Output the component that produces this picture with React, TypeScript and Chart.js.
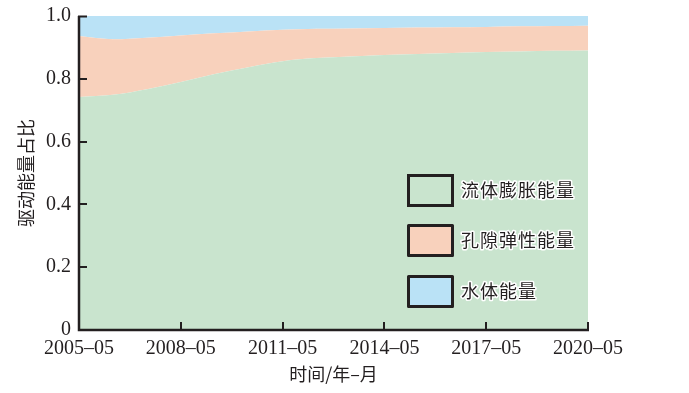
import React, { useEffect, useRef } from "react";
import { Chart, registerables } from "chart.js";

Chart.register(...registerables);

const years = [2005, 2006, 2007, 2008, 2009, 2010, 2011, 2012, 2013, 2014, 2015, 2016, 2017, 2018, 2019, 2020];
const fluidExpansion = [0.742, 0.749, 0.767, 0.790, 0.815, 0.837, 0.856, 0.866, 0.871, 0.876, 0.879, 0.882, 0.885, 0.887, 0.889, 0.890];
const poroElastic = [0.194, 0.177, 0.164, 0.148, 0.130, 0.114, 0.100, 0.093, 0.089, 0.086, 0.084, 0.082, 0.080, 0.080, 0.079, 0.079];
const aquifer = [0.064, 0.074, 0.069, 0.062, 0.055, 0.049, 0.044, 0.041, 0.040, 0.038, 0.037, 0.036, 0.035, 0.033, 0.032, 0.031];
const xTickLabels = ["2005–05", "2008–05", "2011–05", "2014–05", "2017–05", "2020–05"];
const yTickLabels = ["0", "0.2", "0.4", "0.6", "0.8", "1.0"];
const seriesNames = ["流体膨胀能量", "孔隙弹性能量", "水体能量"];
const xTitle = "时间/年–月";
const yTitle = "驱动能量占比";

const INK = "#231f20";
const GREEN = "rgb(201,228,206)";
const PINK = "rgb(248,209,188)";
const BLUE = "rgb(186,226,246)";
const CJK = '"Noto Sans CJK SC", "Noto Sans", sans-serif';
const SERIF = '"Liberation Serif", "DejaVu Serif", serif';

const axesPlugin = {
  id: "inwardAxes",
  afterDatasetsDraw(chart: any) {
    const { ctx, chartArea } = chart;
    const xs = chart.scales.x;
    const ys = chart.scales.y;
    ctx.save();
    ctx.strokeStyle = INK;
    ctx.lineCap = "butt";
    ctx.lineWidth = 2.5;
    ctx.beginPath();
    ctx.moveTo(chartArea.left, chartArea.top);
    ctx.lineTo(chartArea.left, chartArea.bottom);
    ctx.lineTo(chartArea.right + 1, chartArea.bottom);
    ctx.stroke();
    ctx.lineWidth = 2;
    ctx.beginPath();
    ys.ticks.forEach((t: any) => {
      const y = Math.round(ys.getPixelForValue(t.value));
      const yy = t.value === 1 ? chartArea.top + 0.5 : y;
      ctx.moveTo(chartArea.left - 1, yy);
      ctx.lineTo(chartArea.left + 8, yy);
    });
    xs.ticks.forEach((t: any) => {
      const x = Math.round(xs.getPixelForValue(t.value));
      ctx.moveTo(x, chartArea.bottom);
      ctx.lineTo(x, chartArea.bottom - 8);
    });
    ctx.stroke();
    ctx.restore();
  },
};

const legendPlugin = {
  id: "boxLegend",
  afterDraw(chart: any) {
    const { ctx } = chart;
    const boxX = 408.5;
    const boxW = 44;
    const boxH = 30;
    const tops = [175.5, 225.5, 276.5];
    ctx.save();
    chart.data.datasets.forEach((ds: any, i: number) => {
      const top = tops[i];
      ctx.fillStyle = ds.backgroundColor;
      ctx.fillRect(boxX, top, boxW, boxH);
      ctx.lineWidth = 3;
      ctx.strokeStyle = INK;
      ctx.strokeRect(boxX, top, boxW, boxH);
      ctx.font = `18px ${CJK}`;
      (ctx as any).letterSpacing = "1px";
      ctx.textBaseline = "middle";
      ctx.textAlign = "left";
      ctx.lineJoin = "round";
      ctx.lineWidth = 3;
      ctx.strokeStyle = "#ffffff";
      ctx.strokeText(ds.label, 461, top + boxH / 2);
      ctx.fillStyle = INK;
      ctx.fillText(ds.label, 461, top + boxH / 2);
    });
    ctx.restore();
  },
};

export default function App() {
  const ref = useRef<HTMLCanvasElement | null>(null);
  useEffect(() => {
    if (!ref.current) return;
    const mk = (vals: number[]) => years.map((y, i) => ({ x: y, y: vals[i] }));
    const chart = new Chart(ref.current, {
      type: "line",
      data: {
        datasets: [
          { label: seriesNames[0], data: mk(fluidExpansion), backgroundColor: GREEN, borderWidth: 0, pointRadius: 0, fill: "origin", cubicInterpolationMode: "monotone" },
          { label: seriesNames[1], data: mk(poroElastic), backgroundColor: PINK, borderWidth: 0, pointRadius: 0, fill: "-1", cubicInterpolationMode: "monotone" },
          { label: seriesNames[2], data: mk(aquifer), backgroundColor: BLUE, borderWidth: 0, pointRadius: 0, fill: "-1", cubicInterpolationMode: "monotone" },
        ],
      } as any,
      options: {
        responsive: false,
        animation: false,
        devicePixelRatio: 1,
        layout: { padding: { top: 16, right: 101, left: 0, bottom: 0 } },
        plugins: { legend: { display: false }, tooltip: { enabled: false } },
        scales: {
          x: {
            type: "linear",
            min: 2005,
            max: 2020,
            grid: { display: false, drawTicks: false },
            border: { display: false },
            ticks: {
              stepSize: 3,
              autoSkip: false,
              maxRotation: 0,
              padding: 7,
              color: INK,
              font: { family: SERIF, size: 20 },
              callback: (v: any) => xTickLabels[Math.round((Number(v) - 2005) / 3)] ?? "",
            },
            title: { display: true, text: xTitle, color: INK, font: { family: CJK, size: 18 }, padding: { top: 0, bottom: 8 } },
            afterFit: (s: any) => { s.height = 63; },
          },
          y: {
            type: "linear",
            stacked: true,
            min: 0,
            max: 1,
            grid: { display: false, drawTicks: false },
            border: { display: false },
            ticks: {
              stepSize: 0.2,
              padding: 8,
              color: INK,
              font: { family: SERIF, size: 20, lineHeight: 0.8 },
              callback: (v: any) => yTickLabels[Math.round(Number(v) / 0.2)] ?? "",
            },
            title: { display: true, text: yTitle, color: INK, font: { family: CJK, size: 18 }, padding: { top: 15, bottom: 0 } },
            afterFit: (s: any) => { s.width = 79; },
          },
        },
      } as any,
      plugins: [axesPlugin, legendPlugin],
    });
    return () => chart.destroy();
  }, []);
  return (
    <div style={{ position: "absolute", left: 0, top: 0, width: 689, height: 393, background: "#fff" }}>
      <canvas ref={ref} width={689} height={393} style={{ display: "block" }} />
    </div>
  );
}
